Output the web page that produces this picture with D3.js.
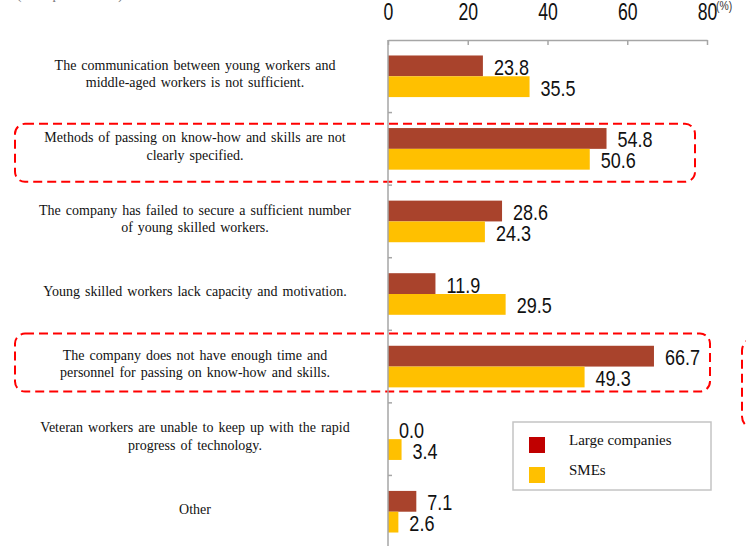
<!DOCTYPE html>
<html>
<head>
<meta charset="utf-8">
<script src="https://cdn.jsdelivr.net/npm/d3@7"></script>
<style>
  html, body { margin: 0; padding: 0; background: #fff; }
  svg { display: block; }
  .serif { font-family: "Liberation Serif", "DejaVu Serif", serif; }
  .num { font-family: "Liberation Sans", Arial, sans-serif; }
</style>
</head>
<body>
<svg id="chart" width="746" height="546"></svg>
<script>
// Reasons why passing on know-how and skills is not going well
const categories = [
  ["The communication between young workers and", "middle-aged workers is not sufficient."],
  ["Methods of passing on know-how and skills are not", "clearly specified."],
  ["The company has failed to secure a sufficient number", "of young skilled workers."],
  ["Young skilled workers lack capacity and motivation."],
  ["The company does not have enough time and", "personnel for passing on know-how and skills."],
  ["Veteran workers are unable to keep up with the rapid", "progress of technology."],
  ["Other"]
];
const largeCompanies = [23.8, 54.8, 28.6, 11.9, 66.7, 0.0, 7.1];
const smes = [35.5, 50.6, 24.3, 29.5, 49.3, 3.4, 2.6];
const seriesNames = ["Large companies", "SMEs"];
const xTicks = [0, 20, 40, 60, 80];
const highlighted = [1, 4];

const barColors = ["#A9432C", "#FFC000"];
const legendColors = ["#C00000", "#FFC000"];

const svg = d3.select("#chart");

const x = d3.scaleLinear().domain([0, 80]).range([388, 707]);
const y = d3.scaleBand().domain(d3.range(categories.length)).range([40, 548]);
const bw = y.bandwidth();
const barH = 20.8;
const ySeries = d3.scaleBand().domain([0, 1]).range([bw / 2 - barH, bw / 2 + barH]);

const values = [largeCompanies, smes];

// heading line running above the chart area
svg.append("text")
  .attr("class", "serif")
  .attr("x", 123).attr("y", -1)
  .attr("text-anchor", "end")
  .attr("font-size", 14).attr("fill", "#777")
  .text("(Multiple answers)");

// annotation frames around highlighted reasons
const frames = svg.append("g")
  .attr("fill", "none")
  .attr("stroke", "#FF0000")
  .attr("stroke-width", 2)
  .attr("stroke-dasharray", "9,5");
frames.append("rect").attr("x", 15).attr("y", y(highlighted[0]) + bw / 2 - 25)
  .attr("width", 680).attr("height", 58).attr("rx", 10);
frames.append("rect").attr("x", 15).attr("y", y(highlighted[1]) + bw / 2 - 33)
  .attr("width", 695).attr("height", 58).attr("rx", 10);
frames.append("rect").attr("x", 742).attr("y", y(highlighted[1]) + bw / 2 - 28)
  .attr("width", 100).attr("height", 90).attr("rx", 12);

// bars
const groups = svg.append("g").selectAll("g")
  .data(categories.map((c, i) => i))
  .join("g")
  .attr("transform", i => `translate(0,${y(i)})`);

groups.selectAll("rect")
  .data(i => values.map((v, s) => ({ s, v: v[i] })))
  .join("rect")
  .attr("x", x(0))
  .attr("y", d => ySeries(d.s))
  .attr("width", d => x(d.v) - x(0))
  .attr("height", ySeries.bandwidth())
  .attr("fill", d => barColors[d.s]);

// value labels in a condensed numeral style
groups.selectAll("text.val")
  .data(i => values.map((v, s) => ({ s, v: v[i] })))
  .join("text")
  .attr("class", "val num")
  .attr("transform", d => `translate(${x(d.v) + 11},${ySeries(d.s) + ySeries.bandwidth() / 2 + 9}) scale(0.82,1)`)
  .attr("font-size", 22)
  .attr("fill", "#111")
  .text(d => d3.format(".1f")(d.v));

// category labels
const labels = svg.append("g")
  .attr("fill", "#111")
  .attr("text-anchor", "middle");
categories.forEach((lines, i) => {
  const cy = y(i) + bw / 2 - 2.5;
  const lh = 17.5;
  const t = labels.append("text")
    .attr("class", "serif")
    .attr("font-size", 14)
    .attr("word-spacing", 1.5);
  lines.forEach((ln, k) => {
    t.append("tspan")
      .attr("x", 195)
      .attr("y", cy + (k - (lines.length - 1) / 2) * lh + 4.5)
      .text(ln);
  });
});

// top value axis
const axisG = svg.append("g")
  .attr("transform", "translate(0,40)")
  .call(d3.axisTop(x).tickValues(xTicks).tickSizeInner(-5).tickSizeOuter(0).tickPadding(20));
axisG.select(".domain").attr("stroke", "#a6a6a6").attr("stroke-width", 1.5);
axisG.selectAll(".tick line").attr("stroke", "#a6a6a6").attr("stroke-width", 1.5);
axisG.selectAll(".tick text")
  .attr("class", "num")
  .attr("font-size", 23.5)
  .attr("fill", "#111")
  .attr("transform", "scale(0.75,1)");

// category axis on the left of the bars
const catAxis = svg.append("g").attr("stroke", "#a6a6a6").attr("stroke-width", 1.5);
catAxis.append("line").attr("x1", x(0)).attr("x2", x(0)).attr("y1", 40).attr("y2", 548);
catAxis.selectAll("line.tk")
  .data(d3.range(1, categories.length))
  .join("line")
  .attr("class", "tk")
  .attr("x1", x(0)).attr("x2", x(0) + 4)
  .attr("y1", i => y(i)).attr("y2", i => y(i));

// unit label
svg.append("text")
  .attr("class", "num")
  .attr("transform", "translate(716,10) scale(0.8,1)")
  .attr("font-size", 13).attr("fill", "#333")
  .text("(%)");

// legend
const lg = svg.append("g");
lg.append("rect").attr("x", 513).attr("y", 422).attr("width", 198).attr("height", 68)
  .attr("fill", "#fff").attr("stroke", "#c4c4c4").attr("stroke-width", 1.5);
seriesNames.forEach((name, i) => {
  lg.append("rect").attr("x", 529).attr("y", 437 + i * 30).attr("width", 16).attr("height", 16)
    .attr("fill", legendColors[i]);
  lg.append("text").attr("class", "serif").attr("x", 569).attr("y", 445 + i * 30)
    .attr("font-size", 15).attr("fill", "#111")
    .text(name);
});
</script>
</body>
</html>
